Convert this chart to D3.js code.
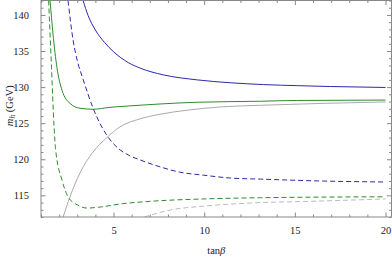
<!DOCTYPE html>
<html>
<head>
<meta charset="utf-8">
<script src="https://cdn.jsdelivr.net/npm/d3@7"></script>
<style>
  html, body { margin: 0; padding: 0; background: #fff; }
  svg { display: block; }
  text { font-family: "Liberation Serif", "DejaVu Serif", serif; fill: #222; }
</style>
</head>
<body>
<svg id="chart" width="392" height="258"></svg>
<script>
// tick values
const xTicks = [5, 10, 15, 20]
const yTicks = [115, 120, 125, 130, 135, 140]

// curves: [tanBeta, mh]
const blueSolid = [[3.32, 142], [3.6, 139.9], [4.0, 137.9], [4.5, 136.2], [5.0, 134.9], [5.81, 133.4],
    [6.5, 132.6], [7.74, 131.7], [9.62, 131.0], [11.44, 130.6], [13.26, 130.35], [15.14, 130.2],
    [16.96, 130.08], [20, 129.95]]
const blueDashed = [[2.49, 142], [2.77, 136.5], [3.04, 133.3], [3.32, 131.1], [3.87, 127.1], [4.63, 123.33],
    [5.36, 121.3], [5.81, 120.6], [6.47, 119.9], [7.57, 118.95], [8.68, 118.2], [9.95, 117.8],
    [11.44, 117.4], [13.1, 117.25], [16.24, 117.0], [20, 116.85]]
const greenSolid = [[1.5, 142], [1.66, 137.4], [1.88, 132.7], [2.16, 129.55], [2.6, 127.75], [3.15, 127.07],
    [3.87, 126.93], [4.81, 127.2], [5.81, 127.38], [9.62, 127.9], [13.1, 128.04], [15.14, 128.15], [20, 128.2]]
const greenDashed = [[1.42, 142], [1.58, 132.7], [1.72, 124.5], [1.8, 121.5], [2.16, 117.1], [2.49, 114.8],
    [2.99, 113.7], [3.54, 113.24], [4.26, 113.38], [5.36, 113.8], [7.19, 114.2], [9.95, 114.5],
    [13.1, 114.67], [20, 114.8]]
const graySolid = [[2.22, 112], [2.6, 114.8], [3.15, 118.1], [3.87, 121.0], [4.63, 123.0], [5.36, 124.5],
    [6.47, 125.6], [7.57, 126.24], [9.06, 126.8], [10.89, 127.25], [13.1, 127.48], [20, 127.94]]
const grayDashed = [[6.7, 112], [8.13, 112.97], [9.95, 113.5], [12.54, 113.93], [16.24, 114.2], [20, 114.5]]

const series = [
    { data: graySolid, color: "#aaaaaa", dash: null },
    { data: grayDashed, color: "#bbbbbb", dash: "5,3" },
    { data: greenDashed, color: "#2f8a2f", dash: "5,3" },
    { data: greenSolid, color: "#2f8a2f", dash: null },
    { data: blueDashed, color: "#2a2aa8", dash: "5,3" },
    { data: blueSolid, color: "#2a2aa8", dash: null },
]

const margin = { left: 41, right: 391.5, top: 0.5, bottom: 217 }
const width = margin.right - margin.left, height = margin.bottom - margin.top

const x = d3.scaleLinear().domain([1, 20.33]).range([0, width])
const y = d3.scaleLinear().domain([112, 142]).range([height, 0])

const svg = d3.select("#chart")
const g = svg.append("g").attr("transform", `translate(${margin.left}, ${margin.top})`)

g.append("clipPath").attr("id", "clip")
    .append("rect").attr("width", width).attr("height", height)

const line = d3.line().curve(d3.curveMonotoneX).x((d) => x(d[0])).y((d) => y(d[1]))

g.append("g").attr("clip-path", "url(#clip)")
    .selectAll("path")
    .data(series)
    .join("path")
    .attr("fill", "none")
    .attr("stroke", (d) => d.color)
    .attr("stroke-width", 1)
    .attr("stroke-dasharray", (d) => d.dash)
    .attr("d", (d) => line(d.data))

// frame with inward ticks on all sides
const frameColor = "#888"
const xMinor = d3.range(1, 21).filter((v) => !xTicks.includes(v))
const yMinor = d3.range(112, 143).filter((v) => !yTicks.includes(v))

function ticks(axisFn, scale, values, size, labels, pad) {
    const a = axisFn(scale).tickValues(values).tickSize(-size).tickPadding(pad)
    if (!labels) a.tickFormat("")
    return a
}

const axes = [
    [d3.axisBottom, x, `translate(0, ${height})`],
    [d3.axisTop, x, "translate(0, 0)"],
    [d3.axisLeft, y, "translate(0, 0)"],
    [d3.axisRight, y, `translate(${width}, 0)`],
]
axes.forEach(([fn, scale, tr], i) => {
    const major = i < 2 ? xTicks : yTicks
    const minor = i < 2 ? xMinor : yMinor
    const showLabels = i === 0 || i === 2
    const pad = i === 0 ? 10 : 12
    const ga = g.append("g").attr("transform", tr)
    ga.append("g").call(ticks(fn, scale, minor, 2.5, false, pad))
    ga.append("g").call(ticks(fn, scale, major, 4.5, showLabels, pad))
    ga.selectAll(".domain").remove()
    ga.selectAll("line").attr("stroke", frameColor)
    ga.selectAll("text").attr("font-size", 10.5).attr("fill", "#222")
        .attr("font-family", "'Liberation Serif', serif")
})

g.append("rect")
    .attr("width", width).attr("height", height)
    .attr("fill", "none").attr("stroke", frameColor).attr("stroke-width", 1)

// axis titles
const xt = svg.append("text")
    .attr("x", margin.left + width / 2).attr("y", 254)
    .attr("text-anchor", "middle").attr("font-size", 10.5)
xt.append("tspan").text("tan")
xt.append("tspan").attr("font-style", "italic").text("β")

const yt = svg.append("text")
    .attr("transform", `translate(13, ${margin.top + height / 2 - 3}) rotate(-90)`)
    .attr("text-anchor", "middle").attr("font-size", 10.5)
yt.append("tspan").attr("font-style", "italic").text("m")
yt.append("tspan").attr("font-style", "italic").attr("font-size", 7.5).attr("dy", 2).text("h")
yt.append("tspan").attr("dy", -2).text(" (GeV)")
</script>
</body>
</html>
